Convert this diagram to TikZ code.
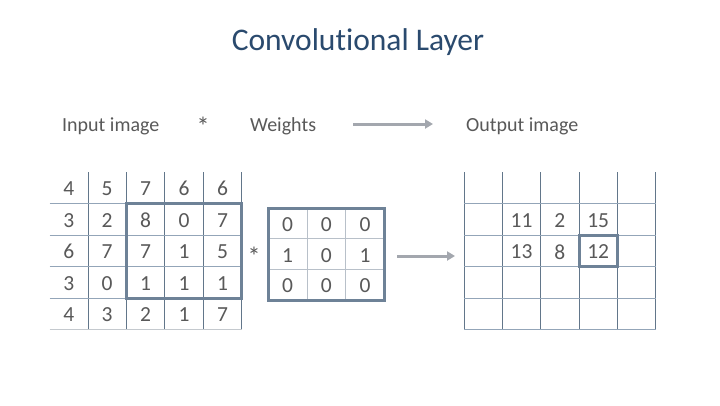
\documentclass[tikz,border=0pt]{standalone}
\usepackage{fontspec}
\setmainfont{Carlito}[Ligatures=NoCommon]
\usetikzlibrary{arrows.meta}
\definecolor{numgray}{HTML}{595959}
\definecolor{titleblue}{HTML}{2A4A6E}
\definecolor{vline}{HTML}{62768A}
\definecolor{hline}{HTML}{93A5B8}
\definecolor{boxc}{HTML}{6E8297}
\definecolor{arrowc}{HTML}{A3A7AE}
\definecolor{wline}{HTML}{B8C0C9}
\definecolor{bline}{HTML}{C4C9CE}
\begin{document}
\begin{tikzpicture}[x=1pt,y=-1pt,
  num/.style={inner sep=0pt, text=numgray, font=\fontsize{21.5}{24}\selectfont},
  lbl/.style={inner sep=0pt, anchor=base west, text=numgray, font=\fontsize{20}{22}\selectfont},
  vl/.style={draw=vline, line width=0.9pt},
  hl/.style={draw=hline, line width=0.9pt},
  hbox/.style={draw=boxc, line width=3pt},
  wl/.style={draw=wline, line width=0.9pt},
  conn/.style={draw=arrowc, line width=3pt, -{Triangle[length=8pt,width=9pt]}}]
\useasboundingbox (0,0) rectangle (720,405);
\fill[white] (0,0) rectangle (720,405);
% title
\node[inner sep=0pt, anchor=base, text=titleblue, font=\fontsize{31.5}{36}\selectfont] (title) at (358,50) {Convolutional Layer};
% header labels
\node[lbl] (inlbl) at (62,131) {Input image};
\node[inner sep=0pt, text=numgray, font=\fontsize{26}{28}\selectfont] (star1) at (203,126) {*};
\node[lbl] (wlbl) at (250,131) {Weights};
\node[lbl] (outlbl) at (466,131) {Output image};
\coordinate (a1s) at (353,124);
\coordinate (a1e) at (433,124);
\draw[conn] (a1s) -- (a1e);
% input grid
\foreach \i in {1,...,5} {
  \draw[vl] ({49.5+38.45*\i},172) -- ({49.5+38.45*\i},329.5);
}
\foreach \j in {1,...,4} {
  \draw[hl] (49.5,{172+31.5*\j}) -- (241.75,{172+31.5*\j});
}
\draw[draw=bline, line width=0.9pt] (49.5,329.5) -- (241.75,329.5);
\foreach \rowv [count=\r] in {{4,5,7,6,6},{3,2,8,0,7},{6,7,7,1,5},{3,0,1,1,1},{4,3,2,1,7}} {
  \foreach \v [count=\c] in \rowv {
    \node[num] (in-\r-\c) at ({49.5+38.45*(\c-0.5)},{172+31.5*(\r-0.5)+1}) {\v};
  }
}
\draw[hbox] (126.4,203.5) rectangle (241.75,298);
% weights
\node[inner sep=0pt, text=numgray, font=\fontsize{26}{28}\selectfont] (star2) at (254,256) {*};
\foreach \i in {1,2} {
  \draw[wl] ({268.3+38.67*\i},208.3) -- ({268.3+38.67*\i},300);
  \draw[wl] (268.3,{208.3+30.57*\i}) -- (384.3,{208.3+30.57*\i});
}
\foreach \rowv [count=\r] in {{0,0,0},{1,0,1},{0,0,0}} {
  \foreach \v [count=\c] in \rowv {
    \node[num] (w-\r-\c) at ({268.3+38.67*(\c-0.5)},{208.3+30.57*(\r-0.5)+1}) {\v};
  }
}
\draw[hbox] (268.3,208.3) rectangle (384.3,300);
\coordinate (a2s) at (397,256);
\coordinate (a2e) at (455,256);
\draw[conn] (a2s) -- (a2e);
% output grid
\foreach \i in {0,...,5} {
  \draw[vl] ({464+38.34*\i},172) -- ({464+38.34*\i},330);
}
\foreach \j in {1,...,5} {
  \draw[hl] (464,{172+31.5*\j}) -- (655.7,{172+31.5*\j});
}
\foreach \v/\r/\c in {11/2/2,2/2/3,15/2/4,13/3/2,8/3/3,12/3/4} {
  \node[num] (out-\r-\c) at ({464+38.34*(\c-0.5)},{172+31.5*(\r-0.5)+1}) {\v};
}
\draw[hbox] (579.0,235) rectangle (617.4,266.5);
\end{tikzpicture}
\end{document}
